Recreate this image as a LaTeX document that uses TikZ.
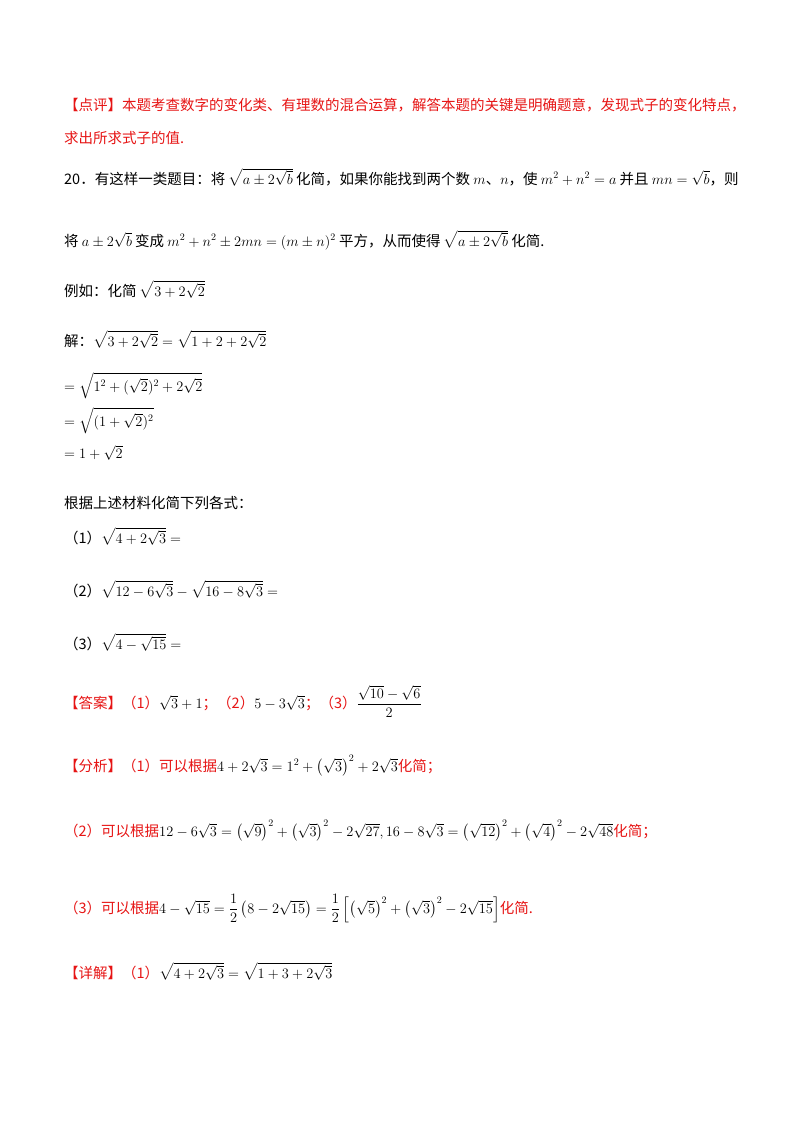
\documentclass[tikz,border=0pt]{standalone}
\usepackage{fontspec}
\usepackage{amsmath}
\setmainfont{Noto Sans CJK SC}
\definecolor{rd}{RGB}{230,20,20}
\newcommand{\rt}[1]{\textcolor{rd}{#1}}
\begin{document}
\begin{tikzpicture}[x=1pt,y=-1pt,
  ln/.style={anchor=base west,inner sep=0pt,font=\fontsize{14.5}{17}\selectfont},
  rl/.style={ln,text=rd}]
\useasboundingbox (0,0) rectangle (800,1132);
\node[rl] (l1) at (64,110) {【点评】本题考查数字的变化类、有理数的混合运算，解答本题的关键是明确题意，发现式子的变化特点，};
\node[rl] (l2) at (64,143) {求出所求式子的值.};
\node[ln] (l3) at (64,184) {20．有这样一类题目：将 $\sqrt{a\pm2\sqrt{b}}$ 化简，如果你能找到两个数 $m$、$n$，使 $m^2+n^2=a$ 并且 $mn=\sqrt{b}$，则};
\node[ln] (l4) at (64,246) {将 $a\pm2\sqrt{b}$ 变成 $m^2+n^2\pm2mn=(m\pm n)^2$ 平方，从而使得 $\sqrt{a\pm2\sqrt{b}}$ 化简.};
\node[ln] (l5) at (64,296) {例如：化简 $\sqrt{3+2\sqrt{2}}$};
\node[ln] (l6) at (64,346) {解：$\sqrt{3+2\sqrt{2}}=\sqrt{1+2+2\sqrt{2}}$};
\node[ln] (l7) at (64,391) {$=\sqrt{1^2+(\sqrt{2})^2+2\sqrt{2}}$};
\node[ln] (l8) at (64,426) {$=\sqrt{(1+\sqrt{2})^2}$};
\node[ln] (l9) at (64,458) {$=1+\sqrt{2}$};
\node[ln] (l10) at (64,508) {根据上述材料化简下列各式：};
\node[ln] (l11) at (64,543) {（1）$\sqrt{4+2\sqrt{3}}=$};
\node[ln] (l12) at (64,596) {（2）$\sqrt{12-6\sqrt{3}}-\sqrt{16-8\sqrt{3}}=$};
\node[ln] (l13) at (64,649) {（3）$\sqrt{4-\sqrt{15}}=$};
\node[ln] (l14) at (64,708) {\rt{【答案】（1）}$\sqrt{3}+1$\rt{；（2）}$5-3\sqrt{3}$\rt{；（3）}$\dfrac{\sqrt{10}-\sqrt{6}}{2}$};
\node[ln] (l15) at (64,771) {\rt{【分析】（1）可以根据}$4+2\sqrt{3}=1^2+\left(\sqrt{3}\right)^2+2\sqrt{3}$\rt{化简；}};
\node[ln] (l16) at (64,836) {\rt{（2）可以根据}$12-6\sqrt{3}=\left(\sqrt{9}\right)^2+\left(\sqrt{3}\right)^2-2\sqrt{27},16-8\sqrt{3}=\left(\sqrt{12}\right)^2+\left(\sqrt{4}\right)^2-2\sqrt{48}$\rt{化简；}};
\node[ln] (l17) at (64,913) {\rt{（3）可以根据}$4-\sqrt{15}=\dfrac12\left(8-2\sqrt{15}\right)=\dfrac12\left[\left(\sqrt{5}\right)^2+\left(\sqrt{3}\right)^2-2\sqrt{15}\right]$\rt{化简.}};
\node[ln] (l18) at (64,978) {\rt{【详解】（1）}$\sqrt{4+2\sqrt{3}}=\sqrt{1+3+2\sqrt{3}}$};
\end{tikzpicture}
\end{document}
